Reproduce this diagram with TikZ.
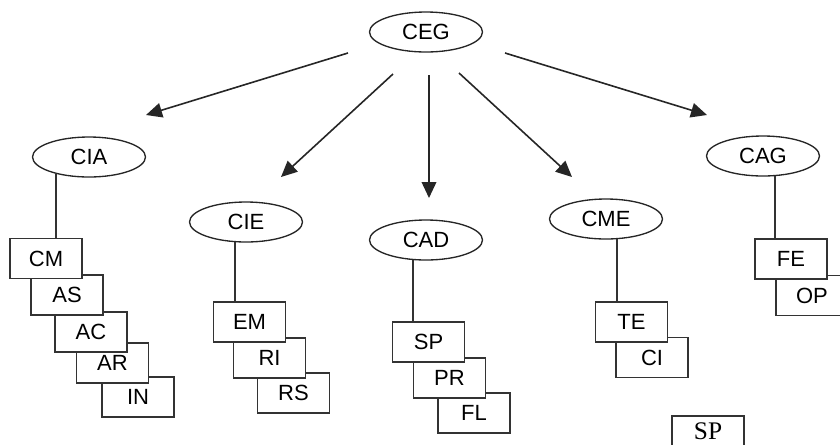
\documentclass[tikz,border=0pt]{standalone}
\usepackage{fontspec}
\setmainfont{Liberation Sans}
\newfontfamily\spfont{Liberation Serif}
\usetikzlibrary{arrows.meta,shapes.geometric,positioning,calc}

\tikzset{
  unit/.style={draw=black!85, ellipse, fill=white, line width=1pt, minimum width=84.75pt, minimum height=30pt, inner sep=0pt, font=\fontsize{16.5}{19}\selectfont},
  part/.style={draw=black!80, rectangle, fill=white, line width=1.4pt, minimum width=54pt, minimum height=30pt, inner sep=0pt, font=\fontsize{16.5}{19}\selectfont},
  link/.style={draw=black!80, line width=1.4pt},
  flow/.style={draw=black!85, line width=1.2pt, -{Triangle[length=12pt,width=11pt]}}
}

\begin{document}
\begin{tikzpicture}[x=0.75pt,y=0.75pt,yscale=-1,xscale=1]
\useasboundingbox (0,0) rectangle (840,444);

%Shape: Ellipse
\node [unit] (CEG) at (426,32) {CEG};
\node [unit] (CIA) at (89,157) {CIA};
\node [unit] (CIE) at (246,222) {CIE};
\node [unit] (CAD) at (426,240) {CAD};
\node [unit] (CME) at (606,219) {CME};
\node [unit] (CAG) at (763,156) {CAG};

%Shape: Rectangle (lower boxes first, so the upper ones cover them)
\node [part] (IN) at (138,397) {IN};
\node [part] (AR) at (112.5,363) {AR};
\node [part] (AC) at (91,332) {AC};
\node [part] (AS) at (67,295) {AS};
\node [part] (CM) at (46,258.5) {CM};

\node [part] (RS) at (293.5,393) {RS};
\node [part] (RI) at (269.5,358) {RI};
\node [part] (EM) at (249.5,322) {EM};

\node [part] (FL) at (474,413) {FL};
\node [part] (PR) at (449.5,378) {PR};
\node [part] (SP) at (428.5,342) {SP};

\node [part] (CI) at (652,357.5) {CI};
\node [part] (TE) at (631.5,322) {TE};

\node [part] (OP) at (812,295.5) {OP};
\node [part] (FE) at (791,259) {FE};

% Text Node
\node [part, line width=1.2pt, text depth=8pt, font=\spfont\fontsize{19}{22}\selectfont] (SPb) at (708,436) {SP};

%Straight Lines
\draw [link] (CIA.207) -- (CIA.207 |- CM.north);
\draw [link] (CIE.241) -- (CIE.241 |- EM.north);
\draw [link] (CAD.238) -- (CAD.238 |- SP.north);
\draw [link] (CME.299) -- (CME.299 |- TE.north);
\draw [link] (CAG.301) -- (CAG.301 |- FE.north);

%Straight Lines with arrows
\coordinate (fromCIA) at (348,53);  \coordinate (toCIA) at (146,115);
\coordinate (fromCIE) at (393,74);  \coordinate (toCIE) at (281,177);
\coordinate (fromCAD) at (429,75);  \coordinate (toCAD) at (429,198);
\coordinate (fromCME) at (459,73);  \coordinate (toCME) at (572,177);
\coordinate (fromCAG) at (505,53);  \coordinate (toCAG) at (707,115);
\draw [flow] (fromCIA) -- (toCIA);
\draw [flow] (fromCIE) -- (toCIE);
\draw [flow] (fromCAD) -- (toCAD);
\draw [flow] (fromCME) -- (toCME);
\draw [flow] (fromCAG) -- (toCAG);
\end{tikzpicture}
\end{document}
